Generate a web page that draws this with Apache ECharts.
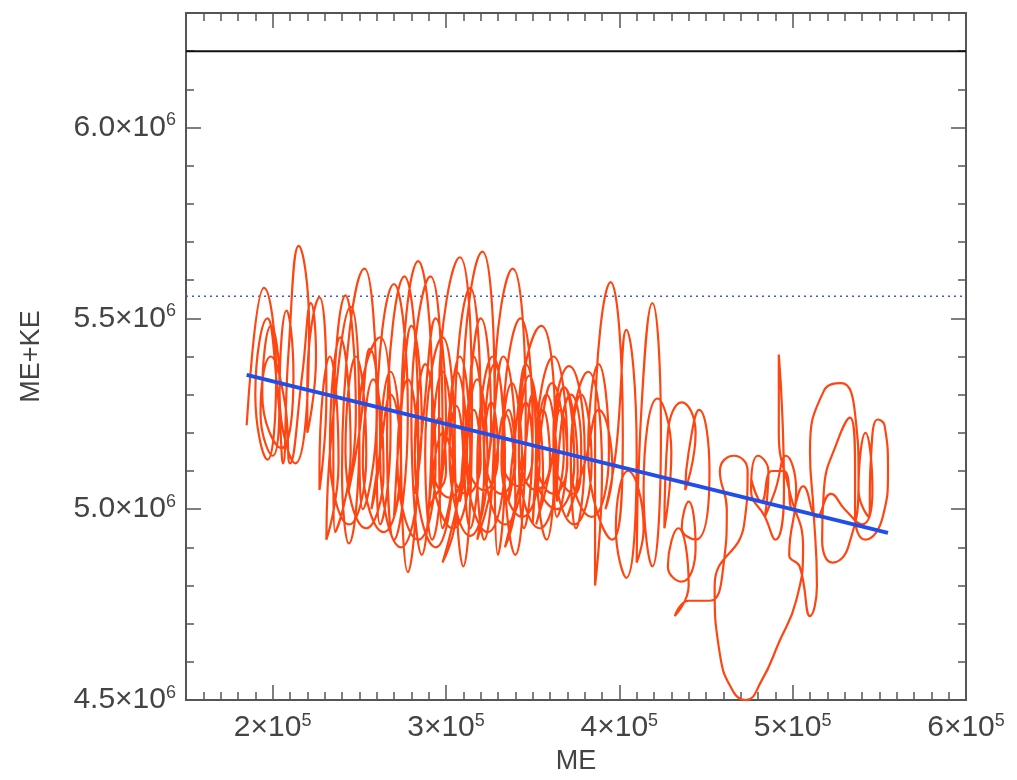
<!DOCTYPE html>
<html>
<head>
<meta charset="utf-8">
<script src="https://cdn.jsdelivr.net/npm/echarts@6/dist/echarts.min.js"></script>
<style>
html, body { margin: 0; padding: 0; background: #fff; }
#chart { width: 1017px; height: 780px; }
</style>
</head>
<body>
<div id="chart"></div>
<script>
// axis values: ME in units of 1e5, ME+KE in units of 1e6
var xMin = 1.5, xMax = 6.0;
var yMin = 4.5, yMax = 6.3;
var xMajor = [2, 3, 4, 5, 6];
var xTickText = ['2', '3', '4', '5', '6'];
var yMajor = [4.5, 5.0, 5.5, 6.0];
var yTickText = ['4.5', '5.0', '5.5', '6.0'];

var totalLevel = 6.2;     // solid black line
var meanLevel = 5.558;    // dotted blue line
var fitME = [1.85, 5.55]; // linear fit ends
var fitE = [5.352, 4.938];

// trajectory [ME, ME+KE]
var orbit = [
    [1.85,5.22],[1.95,5.58],[2.02,5.35],[1.97,5.13],
    [1.90,5.30],[1.97,5.50],[2.03,5.30],[2.06,5.12],
    [2.09,5.40],[2.15,5.69],[2.21,5.48],[2.13,5.12],
    [2.04,5.30],[2.08,5.52],[2.12,5.35],[2.05,5.16],
    [1.94,5.30],[1.99,5.48],[2.04,5.32],[2.00,5.14],
    [1.93,5.25],[1.99,5.40],[2.07,5.28],[2.10,5.12],
    [2.17,5.35],[2.22,5.54],[2.25,5.40],[2.20,5.20],
    [2.20,5.33],[2.27,5.555],[2.31,5.30],[2.27,5.05],
    [2.27,5.10],[2.33,5.40],[2.38,5.12],[2.31,4.92],
    [2.34,5.20],[2.45,5.53],[2.50,5.20],[2.44,4.91],
    [2.40,5.10],[2.53,5.63],[2.60,5.25],[2.52,5.00],
    [2.50,5.25],[2.62,5.45],[2.68,5.20],[2.62,4.96],
    [2.60,5.20],[2.70,5.59],[2.78,5.25],[2.70,4.92],
    [2.66,5.20],[2.76,5.61],[2.84,5.20],[2.78,4.835],
    [2.74,5.20],[2.84,5.65],[2.92,5.30],[2.86,4.88],
    [2.80,5.25],[2.91,5.61],[2.98,5.20],[2.92,4.92],
    [2.88,5.15],[2.98,5.45],[3.05,5.15],[2.98,4.95],
    [2.96,5.30],[3.08,5.66],[3.15,5.25],[3.10,4.85],
    [3.05,5.20],[3.14,5.58],[3.20,5.25],[3.14,4.95],
    [3.10,5.30],[3.21,5.675],[3.28,5.30],[3.22,4.92],
    [3.18,5.10],[3.27,5.40],[3.34,5.10],[3.30,4.88],
    [3.28,5.30],[3.385,5.63],[3.46,5.25],[3.40,4.88],
    [3.33,5.20],[3.43,5.50],[3.50,5.20],[3.45,4.95],
    [3.42,5.20],[3.55,5.48],[3.63,5.20],[3.58,4.92],
    [3.52,5.15],[3.62,5.40],[3.70,5.15],[3.64,4.98],
    [3.62,5.20],[3.71,5.375],[3.80,5.15],[3.75,4.95],
    [3.72,5.15],[3.82,5.36],[3.90,5.10],[3.86,4.80],
    [3.86,5.20],[3.95,5.595],[4.02,5.20],[3.96,4.92],
    [3.82,5.15],[3.88,5.38],[3.94,5.15],[3.84,4.98],
    [3.72,5.12],[3.78,5.30],[3.84,5.12],[3.74,4.96],
    [3.62,5.15],[3.68,5.32],[3.74,5.12],[3.64,5.00],
    [3.52,5.10],[3.58,5.30],[3.64,5.10],[3.54,4.95],
    [3.42,5.14],[3.48,5.35],[3.54,5.12],[3.44,4.98],
    [3.32,5.12],[3.38,5.33],[3.44,5.10],[3.34,4.96],
    [3.22,5.15],[3.28,5.38],[3.34,5.14],[3.24,4.94],
    [3.12,5.12],[3.18,5.34],[3.24,5.12],[3.14,4.93],
    [3.02,5.15],[3.08,5.40],[3.14,5.15],[3.04,4.95],
    [2.92,5.12],[2.98,5.36],[3.04,5.12],[2.94,4.90],
    [2.82,5.14],[2.88,5.38],[2.94,5.12],[2.84,4.92],
    [2.72,5.12],[2.78,5.34],[2.84,5.10],[2.74,4.90],
    [2.62,5.14],[2.68,5.36],[2.74,5.12],[2.64,4.94],
    [2.52,5.12],[2.58,5.34],[2.64,5.10],[2.54,4.95],
    [2.42,5.15],[2.48,5.40],[2.54,5.14],[2.44,4.96],
    [2.33,5.15],[2.39,5.45],[2.45,5.15],[2.36,4.94],
    [2.35,5.20],[2.42,5.56],[2.48,5.25],[2.44,5.05],
    [2.50,5.20],[2.56,5.42],[2.62,5.18],[2.57,5.00],
    [2.62,5.15],[2.68,5.30],[2.74,5.12],[2.70,4.98],
    [2.74,5.25],[2.80,5.48],[2.86,5.22],[2.82,5.04],
    [2.86,5.20],[2.94,5.50],[3.00,5.22],[2.96,5.04],
    [3.00,5.18],[3.06,5.36],[3.12,5.16],[3.08,5.02],
    [3.12,5.24],[3.20,5.50],[3.26,5.22],[3.22,5.06],
    [3.26,5.18],[3.33,5.40],[3.40,5.16],[3.36,5.02],
    [3.40,5.20],[3.46,5.38],[3.52,5.16],[3.50,4.96],
    [3.54,5.18],[3.61,5.33],[3.68,5.15],[3.64,5.02],
    [3.66,5.20],[3.72,5.30],[3.78,5.16],[3.74,5.04],
    [3.62,5.14],[3.66,5.26],[3.70,5.12],[3.62,5.04],
    [3.52,5.14],[3.56,5.26],[3.60,5.12],[3.52,5.05],
    [3.42,5.16],[3.46,5.28],[3.50,5.14],[3.42,5.06],
    [3.32,5.14],[3.36,5.26],[3.40,5.12],[3.32,5.04],
    [3.22,5.16],[3.26,5.28],[3.30,5.14],[3.22,5.05],
    [3.12,5.14],[3.16,5.26],[3.20,5.12],[3.12,5.04],
    [3.02,5.15],[3.06,5.27],[3.10,5.12],[3.02,5.03],
    [2.92,5.12],[2.96,5.24],[3.00,5.10],[2.92,5.02],
    [2.90,5.00],[2.98,5.20],[3.06,5.00],[2.98,4.86],
    [3.10,5.10],[3.16,5.40],[3.22,5.10],[3.18,4.92],
    [3.26,5.05],[3.34,5.25],[3.40,5.02],[3.34,4.90],
    [3.44,5.10],[3.50,5.30],[3.56,5.08],[3.52,4.96],
    [3.60,5.10],[3.68,5.32],[3.76,5.10],[3.70,4.98],
    [3.80,5.12],[3.88,5.26],[3.96,5.10],[3.92,5.00],
    [3.98,5.15],[4.04,5.47],[4.10,5.15],[4.04,4.82],
    [3.98,4.95],[4.05,5.10],[4.14,4.95],[4.10,4.86],
    [4.12,5.20],[4.19,5.54],[4.24,5.20],[4.19,4.85],
    [4.14,5.05],[4.22,5.29],[4.30,5.15],[4.26,4.95],
    [4.28,5.20],[4.36,5.28],[4.44,5.20],[4.38,5.05],
    [4.40,5.15],[4.46,5.26],[4.52,5.10],[4.44,4.92],
    [4.36,4.95],[4.40,5.02],[4.44,4.90],[4.36,4.81],
    [4.28,4.85],[4.34,4.95],[4.40,4.80],[4.32,4.72],
    [4.40,4.76],[4.52,4.76],[4.60,4.85],[4.62,5.00],
    [4.58,5.10],[4.66,5.14],[4.74,5.10],[4.72,4.96],
    [4.55,4.80],[4.58,4.62],[4.66,4.52],[4.73,4.50],[4.82,4.55],[4.92,4.65],[5.02,4.76],[5.06,4.90],
    [4.98,5.05],[4.92,5.20],[4.92,5.405],[4.94,5.25],[4.95,5.05],[4.90,4.92],[4.84,4.98],
    [4.76,5.05],[4.80,5.14],[4.86,5.10],[4.84,4.98],
    [4.90,5.05],[4.96,5.14],[5.02,5.05],[4.98,4.88],
    [5.04,4.85],[5.10,4.72],[5.14,4.80],[5.12,5.00],
    [5.10,5.15],[5.18,5.31],[5.28,5.33],[5.36,5.25],[5.38,5.08],[5.32,4.90],[5.23,4.86],[5.17,4.92],
    [5.18,5.05],[5.26,5.18],[5.33,5.24],[5.36,5.10],[5.36,4.98],
    [5.42,4.92],[5.52,4.98],[5.55,5.10],[5.53,5.22],[5.49,5.235],[5.45,5.12],[5.44,4.98],
    [5.38,5.05],[5.42,5.20],[5.46,5.05],[5.40,4.96],
    [5.30,5.00],[5.22,5.04],[5.14,4.98],[5.06,5.06],[5.00,5.00],
    [4.95,5.10],[4.88,5.10],[4.82,5.02],[4.76,5.08]
];

var fontName = 'Liberation Sans';
var textColor = '#444';
var axisColor = '#555';

var rich = {
    m: { fontSize: 30, fontFamily: fontName, color: textColor, lineHeight: 32 },
    s: { fontSize: 18, fontFamily: fontName, color: textColor, verticalAlign: 'top', lineHeight: 18 }
};

function xLabel(v) {
    for (var i = 0; i < xMajor.length; i++) {
        if (Math.abs(xMajor[i] - v) < 1e-6) return '{m|' + xTickText[i] + '\u00d710}{s|5}';
    }
    return '';
}
function yLabel(v) {
    for (var i = 0; i < yMajor.length; i++) {
        if (Math.abs(yMajor[i] - v) < 1e-6) return '{m|' + yTickText[i] + '\u00d710}{s|6}';
    }
    return '';
}

// minor ticks axis (every 0.1) + major ticks axis, for one side of the box
function makeAxis(dim, pos, major, withLine, labelled) {
    var isX = dim === 'x';
    var ax = {
        type: 'value',
        position: pos,
        min: isX ? xMin : yMin,
        max: isX ? xMax : yMax,
        splitLine: { show: false },
        axisLine: { show: withLine, onZero: false, lineStyle: { color: axisColor, width: 2 } },
        axisLabel: { show: false }
    };
    if (major) {
        var vals = isX ? xMajor : yMajor;
        ax.axisTick = { inside: true, length: 15, customValues: vals, lineStyle: { color: axisColor, width: 1.5 } };
        if (labelled) {
            ax.axisLabel = {
                show: true, customValues: vals, margin: isX ? 12 : 10,
                formatter: isX ? xLabel : yLabel, rich: rich
            };
        }
    } else {
        ax.interval = 0.1;
        ax.axisTick = { inside: true, length: 8, lineStyle: { color: axisColor, width: 1.5 } };
    }
    return ax;
}

var xAxes = [
    makeAxis('x', 'bottom', false, true, false),
    makeAxis('x', 'bottom', true, false, true),
    makeAxis('x', 'top', false, true, false),
    makeAxis('x', 'top', true, false, false)
];
xAxes[0].name = 'ME';
xAxes[0].nameLocation = 'middle';
xAxes[0].nameGap = 48;
xAxes[0].nameTextStyle = { fontSize: 27, fontFamily: fontName, color: textColor };

var yAxes = [
    makeAxis('y', 'left', false, true, false),
    makeAxis('y', 'left', true, false, true),
    makeAxis('y', 'right', false, true, false),
    makeAxis('y', 'right', true, false, false)
];
yAxes[0].name = 'ME+KE';
yAxes[0].nameLocation = 'middle';
yAxes[0].nameGap = 141;
yAxes[0].nameTextStyle = { fontSize: 27, fontFamily: fontName, color: textColor };

var myChart = echarts.init(document.getElementById('chart'));

var option = {
    animation: false,
    backgroundColor: '#fff',
    grid: { left: 186, top: 13, width: 780, height: 688 },
    xAxis: xAxes,
    yAxis: yAxes,
    series: [
        {
            type: 'line',
            data: [[xMin, meanLevel], [xMax, meanLevel]],
            showSymbol: false,
            lineStyle: { color: '#3d5be0', width: 1.5, type: [2, 4] },
            z: 1
        },
        {
            type: 'line',
            data: orbit,
            smooth: 0.5,
            showSymbol: false,
            lineStyle: { color: '#ff4612', width: 2.2 },
            z: 2
        },
        {
            type: 'line',
            data: [[xMin, totalLevel], [xMax, totalLevel]],
            showSymbol: false,
            lineStyle: { color: '#111', width: 2 },
            z: 3
        },
        {
            type: 'line',
            data: [[fitME[0], fitE[0]], [fitME[1], fitE[1]]],
            showSymbol: false,
            lineStyle: { color: '#1f4fe8', width: 4 },
            z: 4
        }
    ]
};

myChart.setOption(option);
</script>
</body>
</html>
